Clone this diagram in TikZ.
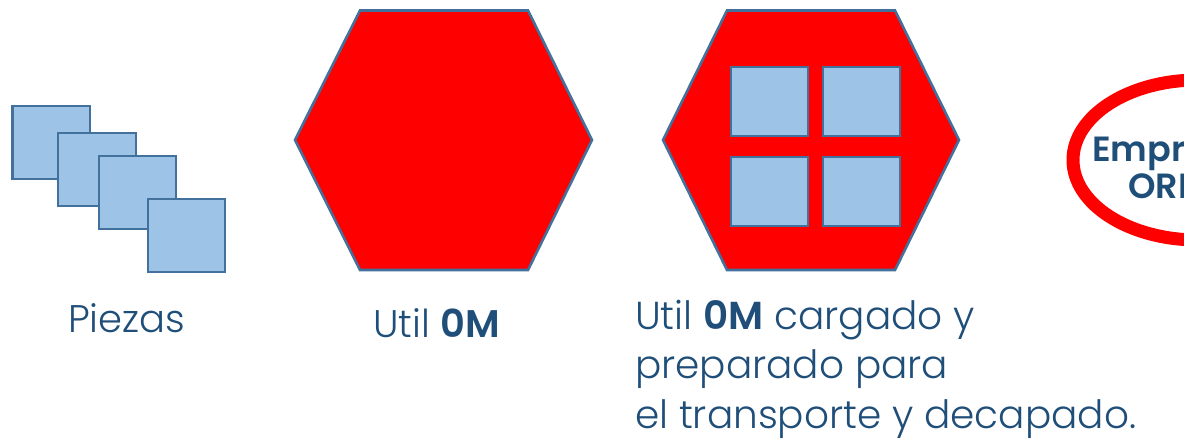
\documentclass[tikz,border=0pt]{standalone}
\usepackage{fontspec}
\setmainfont{Poppins}[UprightFont=* Light,BoldFont=* SemiBold]
\definecolor{txtblue}{RGB}{31,78,121}
\definecolor{sqfill}{RGB}{157,195,230}
\definecolor{sqline}{RGB}{65,113,156}
\definecolor{hexred}{RGB}{255,0,0}
\tikzset{
  piece/.style={fill=sqfill,draw=sqline,line width=2.6pt},
  hexa/.style={fill=hexred,draw=sqline,line width=2.6pt,line join=miter},
  lbl/.style={inner sep=0pt,anchor=base west,text=txtblue,font=\fontsize{38.5}{49.5}\selectfont},
  lblc/.style={lbl,font=\fontsize{39}{49.5}\selectfont},
  lblo/.style={lbl,font=\fontsize{35}{35}\bfseries\selectfont},
}
\begin{document}
\begin{tikzpicture}[x=1pt,y=-1pt]
\useasboundingbox (0,0) rectangle (1184,444);
\clip (0,0) rectangle (1184,444);
% pieces
\draw[piece] (12.7,106) rectangle (90,179);
\draw[piece] (58,133) rectangle (136,206);
\draw[piece] (99,156) rectangle (176,229);
\draw[piece] (148,199) rectangle (225,272);
% hexagon 1
\draw[hexa] (295,140) -- (360,10.5) -- (528,10.5) -- (592,140) -- (528,270) -- (360,270) -- cycle;
% hexagon 2
\draw[hexa] (663,140) -- (727,10.5) -- (895,10.5) -- (959,140) -- (895,270) -- (727,270) -- cycle;
\draw[piece] (731,67) rectangle (808,136);
\draw[piece] (823,67) rectangle (900,136);
\draw[piece] (731,157) rectangle (808,226);
\draw[piece] (823,157) rectangle (900,226);
% ellipse
\draw[draw=hexred,line width=13pt] (1198,160) ellipse [x radius=125, y radius=80];
\node[lblo] (e1) at (1092,161) {Empresa};
\node[lblo] (e2) at (1128,198) {ORIGEN};
% labels
\node[lbl] (piezas) at (68,332) {Piezas};
\node[lbl] (util) at (373,337) {Util \textbf{0M}};
\node[lblc] (c1) at (635,329) {Util \textbf{0M} cargado y};
\node[lblc] (c2) at (635,378.5) {preparado para};
\node[lblc] (c3) at (635,428) {el transporte y decapado.};
\end{tikzpicture}
\end{document}
